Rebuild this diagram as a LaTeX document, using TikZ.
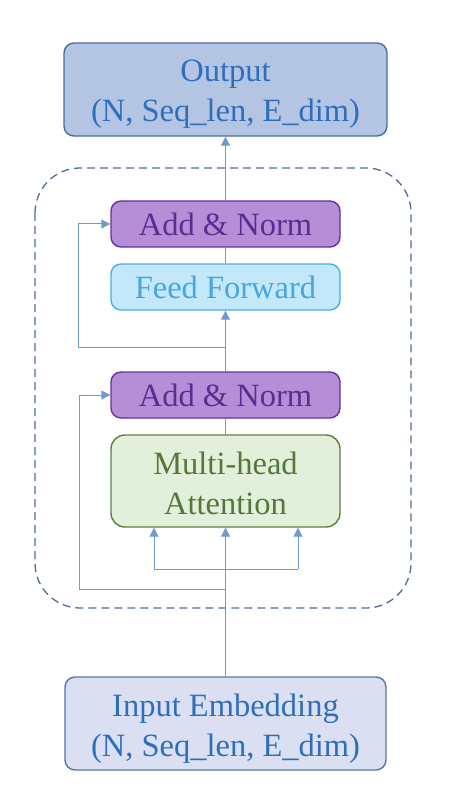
\documentclass[tikz,border=0pt]{standalone}
\usepackage{fontspec}
\setmainfont{Liberation Serif}
\usetikzlibrary{arrows.meta}
\definecolor{outfill}{HTML}{B4C5E4}
\definecolor{outdraw}{HTML}{4A6C9B}
\definecolor{bluetext}{HTML}{2F6EBA}
\definecolor{infill}{HTML}{DAE0F2}
\definecolor{indraw}{HTML}{5775A6}
\definecolor{anfill}{HTML}{B48FD8}
\definecolor{andraw}{HTML}{6A2F9F}
\definecolor{antext}{HTML}{5C2D91}
\definecolor{fffill}{HTML}{C2E8FA}
\definecolor{ffdraw}{HTML}{4AAEE3}
\definecolor{fftext}{HTML}{47A5E3}
\definecolor{mhfill}{HTML}{E2EFDA}
\definecolor{mhdraw}{HTML}{5B7F3A}
\definecolor{mhtext}{HTML}{55783A}
\definecolor{dashcol}{HTML}{4F6D9A}
\definecolor{conncol}{HTML}{6C9BD2}
\newcommand\twol[3]{\raisebox{#1}[\height][\depth]{\begin{tabular}{@{}c@{}}#2\\#3\end{tabular}}}
\tikzset{
  box/.style={rounded corners=10pt, line width=1.4pt, align=center, inner sep=0pt,
    font=\fontsize{32.5}{40}\selectfont},
  outbox/.style={box, fill=outfill, draw=outdraw, text=bluetext, minimum width=323pt, minimum height=93pt},
  inbox/.style={box, fill=infill, draw=indraw, text=bluetext, minimum width=321pt, minimum height=93pt},
  anbox/.style={box, fill=anfill, draw=andraw, text=antext, minimum width=229pt, minimum height=46pt},
  ffbox/.style={box, fill=fffill, draw=ffdraw, text=fftext, minimum width=229pt, minimum height=46pt},
  mhbox/.style={box, fill=mhfill, draw=mhdraw, text=mhtext, minimum width=229pt, minimum height=92pt, rounded corners=14pt},
  conn/.style={draw=conncol, line width=1pt},
  arr/.style={conn, -{Triangle[width=9pt,length=9pt]}},
}
\begin{document}
\begin{tikzpicture}[x=1pt,y=-1pt]
\useasboundingbox (0,0) rectangle (450,794);
\draw[dashcol, line width=1.3pt, dash pattern=on 8pt off 5pt, rounded corners=45pt] (35,168) rectangle (411,608);
\node[outbox] (out) at (225.5,89.5) {\twol{-4pt}{Output}{(N, Seq\_len, E\_dim)}};
\node[anbox] (an1) at (225.5,224) {Add \& Norm};
\node[ffbox] (ff) at (225.5,287) {Feed Forward};
\node[anbox] (an2) at (225.5,395) {Add \& Norm};
\node[mhbox] (mha) at (225.5,481) {\twol{-5pt}{Multi-head}{Attention}};
\node[inbox] (in) at (225.5,723.5) {\twol{-5pt}{Input Embedding}{(N, Seq\_len, E\_dim)}};
\coordinate (q) at (154,569);
\coordinate (v) at (298,569);
\coordinate (r1) at (225.5,589);
\coordinate (c1) at (79,589);
\coordinate (r2) at (225.5,347);
\coordinate (c2) at (78,347);
\draw[arr] (in.north) -- (mha.south);
\draw[conn] (q) -- (v);
\draw[arr] (q) -- (q |- mha.south);
\draw[arr] (v) -- (v |- mha.south);
\draw[conn] (r1) -- (c1);
\draw[arr] (c1) |- (an2.west);
\draw[conn] (mha.north) -- (an2.south);
\draw[arr] (an2.north) -- (ff.south);
\draw[conn] (r2) -- (c2);
\draw[arr] (c2) |- (an1.west);
\draw[conn] (ff.north) -- (an1.south);
\draw[arr] (an1.north) -- (out.south);
\end{tikzpicture}
\end{document}
